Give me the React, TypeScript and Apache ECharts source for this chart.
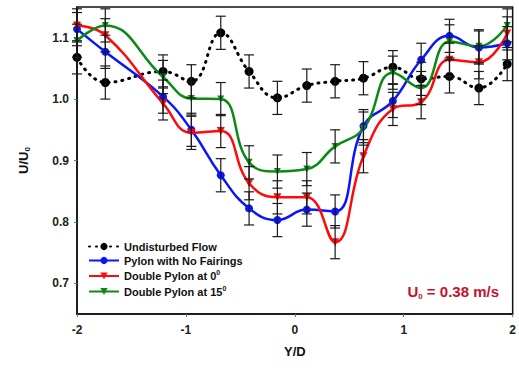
import React, { useEffect, useRef } from "react";
import * as echarts from "echarts";

const xVals = [-2, -1.74, -1.21, -0.95, -0.68, -0.42, -0.16, 0.11, 0.37, 0.63, 0.9, 1.16, 1.42, 1.69, 1.95];
const undisturbed = [1.068, 1.027, 1.045, 1.029, 1.108, 1.045, 1.002, 1.022, 1.029, 1.034, 1.052, 1.033, 1.037, 1.018, 1.057];
const noFairings = [1.114, 1.077, 1.004, 0.95, 0.876, 0.822, 0.803, 0.82, 0.817, 0.956, 0.997, 1.064, 1.103, 1.084, 1.091];
const double0 = [1.12, 1.104, 0.993, 0.945, 0.948, 0.863, 0.84, 0.84, 0.767, 0.907, 0.984, 0.995, 1.064, 1.06, 1.107];
const double15 = [1.095, 1.12, 1.036, 1.001, 1.0, 0.897, 0.882, 0.886, 0.923, 0.952, 1.043, 1.018, 1.094, 1.086, 1.12];
const errUndisturbed = [0.027, 0.027, 0.027, 0.027, 0.027, 0.027, 0.027, 0.027, 0.027, 0.027, 0.027, 0.027, 0.027, 0.027, 0.027];
const errNoFairings = [0.027, 0.027, 0.027, 0.027, 0.027, 0.027, 0.027, 0.027, 0.027, 0.027, 0.027, 0.027, 0.027, 0.027, 0.027];
const errDouble0 = [0.027, 0.027, 0.027, 0.027, 0.027, 0.027, 0.027, 0.027, 0.027, 0.027, 0.027, 0.027, 0.027, 0.027, 0.027];
const errDouble15 = [0.027, 0.027, 0.027, 0.027, 0.027, 0.027, 0.027, 0.027, 0.027, 0.027, 0.027, 0.027, 0.027, 0.027, 0.027];
const yTicks = [0.7, 0.8, 0.9, 1.0, 1.1];
const seriesNames = ["Undisturbed Flow", "Pylon with No Fairings", "Double Pylon at 0", "Double Pylon at 15"];

const FONT = "Liberation Sans, Arial, sans-serif";

function errSeries(vals: number[], errs: number[]) {
  return {
    type: "custom",
    silent: true,
    z: 5,
    encode: { x: 0, y: [1, 2] },
    data: xVals.map((x, i) => [x, vals[i] - errs[i], vals[i] + errs[i]]),
    renderItem: (params: any, api: any) => {
      const x = api.value(0);
      const lo = api.coord([x, api.value(1)]);
      const hi = api.coord([x, api.value(2)]);
      const hw = 5;
      const style = { stroke: "#1a1a1a", lineWidth: 1.2 };
      return {
        type: "group",
        children: [
          { type: "line", shape: { x1: lo[0], y1: lo[1], x2: hi[0], y2: hi[1] }, style },
          { type: "line", shape: { x1: lo[0] - hw, y1: lo[1], x2: lo[0] + hw, y2: lo[1] }, style },
          { type: "line", shape: { x1: hi[0] - hw, y1: hi[1], x2: hi[0] + hw, y2: hi[1] }, style },
        ],
      };
    },
  };
}

function lineSeries(name: string, vals: number[], color: string, symbol: string, size: number, dotted = false) {
  return {
    name,
    type: "line",
    smooth: 0.45,
    z: 4,
    data: xVals.map((x, i) => [x, vals[i]]),
    symbol,
    symbolSize: size,
    symbolRotate: symbol === "triangle" ? 180 : 0,
    itemStyle: { color },
    lineStyle: dotted
      ? { color, width: 3, type: [1, 6], cap: "round" }
      : { color, width: 2.5 },
  };
}

export default function App() {
  const ref = useRef<HTMLDivElement>(null);
  useEffect(() => {
    if (!ref.current) return;
    const chart = echarts.init(ref.current, undefined, { renderer: "svg" });
    chart.setOption({
      animation: false,
      backgroundColor: "#fff",
      textStyle: { fontFamily: FONT },
      grid: { left: 77, right: 5, top: 7, bottom: 56, show: true, borderColor: "#111", borderWidth: 1.5 },
      xAxis: {
        type: "value",
        min: -2,
        max: 2,
        interval: 1,
        name: "Y/D",
        nameLocation: "middle",
        nameGap: 31,
        nameTextStyle: { fontFamily: FONT, fontWeight: "bold", fontSize: 13, color: "#111" },
        axisLine: { show: true, onZero: false, lineStyle: { color: "#111", width: 1.5 } },
        axisTick: { show: true, inside: false, length: 3, lineStyle: { color: "#3a9a3a" } },
        axisLabel: { fontFamily: FONT, fontWeight: "bold", fontSize: 12, color: "#222", margin: 10 },
        splitLine: { show: false },
      },
      yAxis: {
        type: "value",
        min: 0.65,
        max: 1.15,
        name: "{a|U/U}{b|0}",
        nameLocation: "middle",
        nameGap: 46,
        nameRotate: 90,
        nameTextStyle: {
          rich: {
            a: { fontFamily: FONT, fontWeight: "bold", fontSize: 13, color: "#111" },
            b: { fontFamily: FONT, fontWeight: "bold", fontSize: 8, color: "#111", padding: [8, 0, 0, 0] },
          },
        },
        axisLine: { show: true, onZero: false, lineStyle: { color: "#111", width: 1.5 } },
        axisTick: { show: true, length: 3, customValues: yTicks, lineStyle: { color: "#3a9a3a" } },
        axisLabel: {
          customValues: yTicks,
          formatter: (v: number) => v.toFixed(1),
          fontFamily: FONT,
          fontWeight: "bold",
          fontSize: 12,
          color: "#222",
          margin: 8,
        },
        splitLine: { show: false },
      },
      legend: {
        orient: "vertical",
        left: 83,
        top: 236,
        itemWidth: 30,
        itemHeight: 9,
        itemGap: 3,
        data: seriesNames,
        formatter: (name: string) =>
          name.startsWith("Double") ? name + "{s|0}" : name,
        textStyle: {
          fontFamily: FONT,
          fontWeight: "bold",
          fontSize: 11,
          color: "#111",
          rich: {
            s: { fontFamily: FONT, fontWeight: "bold", fontSize: 7, color: "#111", padding: [0, 0, 7, 0] },
          },
        },
      },
      graphic: [
        {
          type: "text",
          right: 20,
          top: 284,
          style: {
            text: "{a|U}{s|0}{a| = 0.38 m/s}",
            rich: {
              a: { fontFamily: FONT, fontWeight: "bold", fontSize: 15, fill: "#c8102e" },
              s: { fontFamily: FONT, fontWeight: "bold", fontSize: 8, fill: "#c8102e", padding: [9, 0, 0, 0] },
            },
          },
        },
      ],
      series: [
        errSeries(undisturbed, errUndisturbed),
        errSeries(noFairings, errNoFairings),
        errSeries(double0, errDouble0),
        errSeries(double15, errDouble15),
        lineSeries(seriesNames[0], undisturbed, "#000000", "circle", 9, true),
        lineSeries(seriesNames[1], noFairings, "#0a14ff", "circle", 8),
        lineSeries(seriesNames[2], double0, "#ff0a0a", "triangle", 8),
        lineSeries(seriesNames[3], double15, "#0a8a14", "triangle", 7),
      ],
    });
    return () => chart.dispose();
  }, []);
  return <div ref={ref} style={{ width: 519, height: 370, position: "absolute", left: 0, top: 0 }} />;
}
